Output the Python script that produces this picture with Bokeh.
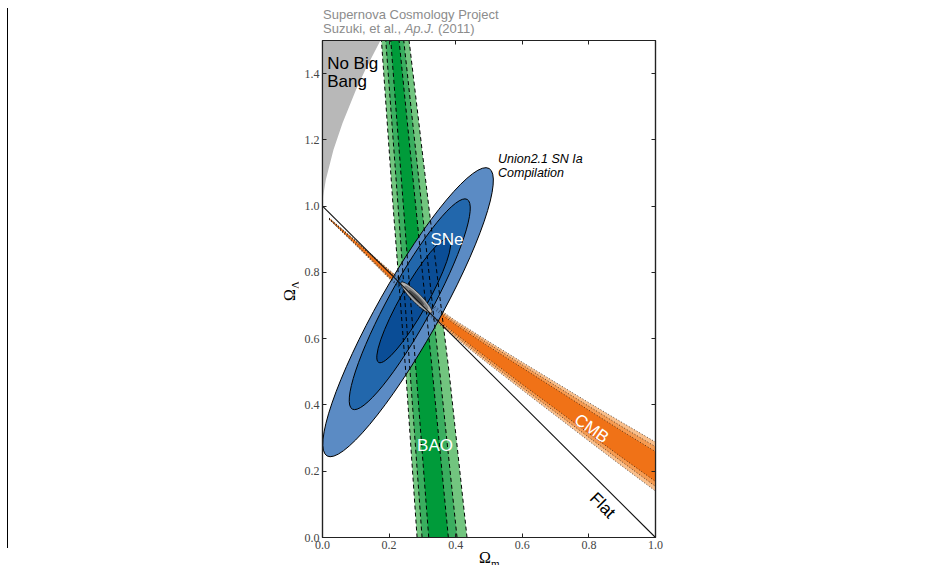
import numpy as np
from bokeh.plotting import figure
from bokeh.models import Range1d, LinearAxis, FixedTicker, Label, CustomJSTickFormatter, Div
from bokeh.layouts import row, column
from bokeh.embed import file_html
from bokeh.resources import INLINE

# ---------------- data ----------------
x_ticks = [0.0, 0.2, 0.4, 0.6, 0.8, 1.0]
y_ticks = [0.0, 0.2, 0.4, 0.6, 0.8, 1.0, 1.2, 1.4]

# "No Big Bang" boundary (Omega_m, Omega_Lambda)
nbb_om = [0.0, 0.002, 0.01, 0.033, 0.06, 0.10, 0.13, 0.174]
nbb_ol = [1.0, 1.03, 1.08, 1.17, 1.25, 1.35, 1.415, 1.5]

# flat universe line
flat_om = [0.0, 1.0]
flat_ol = [1.0, 0.0]

# BAO band edges (Omega_m) at given Omega_Lambda
bao_ol = [0.0, 0.5, 1.0, 1.5]
bao_lo_997 = [0.284, 0.250, 0.212, 0.177]
bao_lo_95 = [0.299, 0.263, 0.227, 0.190]
bao_lo_68 = [0.319, 0.281, 0.243, 0.205]
bao_hi_68 = [0.378, 0.330, 0.280, 0.230]
bao_hi_95 = [0.404, 0.352, 0.298, 0.244]
bao_hi_997 = [0.434, 0.380, 0.319, 0.260]

# CMB band: centre line and half widths (Omega_Lambda) at given Omega_m
cmb_om = [0.02, 0.1, 0.2, 0.3, 0.4, 0.5, 0.6, 0.7, 0.8, 0.9, 1.0]
cmb_mid = [0.962, 0.889, 0.795, 0.705, 0.628, 0.557, 0.487, 0.418, 0.349, 0.281, 0.214]
cmb_hw_997 = [0.002, 0.007, 0.013, 0.019, 0.026, 0.034, 0.042, 0.050, 0.058, 0.066, 0.074]
cmb_hw_95 = [0.0015, 0.005, 0.010, 0.015, 0.020, 0.027, 0.034, 0.040, 0.047, 0.053, 0.060]
cmb_hw_68 = [0.001, 0.0035, 0.007, 0.010, 0.014, 0.019, 0.025, 0.030, 0.035, 0.040, 0.045]

# SNe confidence ellipses (99.7%, 95%, 68%)
sn_om = [0.257, 0.262, 0.274]
sn_ol = [0.680, 0.704, 0.715]
sn_len = [0.991, 0.718, 0.427]
sn_wid = [0.185, 0.132, 0.080]
sn_ang = [60.6, 61.3, 60.4]

# combined constraint (99.7%, 95%, 68%)
comb_om = [0.282, 0.282, 0.282]
comb_ol = [0.724, 0.724, 0.724]
comb_len = [0.130, 0.100, 0.064]
comb_wid = [0.028, 0.019, 0.011]
comb_ang = [-45.0, -45.0, -45.0]

# ---------------- styles ----------------
blue = ["#5b8bc4", "#2267ac", "#0a4d96"]
green = ["#72c57f", "#3aae5f", "#009b3a"]
orange = ["#f9bf8c", "#f59b52", "#f07217"]
grey = ["#b4b4b4", "#7f7f7f", "#4a4a4a"]
SANS = "Liberation Sans"
SERIF = "Liberation Serif"

p = figure(frame_width=333, frame_height=497,
           x_range=Range1d(0, 1), y_range=Range1d(0, 1.5),
           output_backend="svg", toolbar_location=None,
           min_border_left=24, min_border_right=10,
           min_border_top=4, min_border_bottom=16)
p.grid.visible = False
p.outline_line_color = "#222222"
p.outline_line_width = 1.2
p.background_fill_color = "white"
p.border_fill_color = "white"

p.add_layout(LinearAxis(), "above")
p.add_layout(LinearAxis(), "right")
for ax in p.axis:
    ax.major_tick_in = 4
    ax.major_tick_out = 0
    ax.minor_tick_in = 0
    ax.minor_tick_out = 0
    ax.axis_line_color = "#222222"
    ax.axis_line_width = 1.2
    ax.major_tick_line_color = "#222222"
    ax.minor_tick_line_color = "#222222"
    ax.major_label_text_font = SERIF
    ax.major_label_text_font_size = "12px"
    ax.major_label_text_color = "#444444"
    ax.major_label_standoff = 3

# bottom / left: labelled major ticks
p.below[0].ticker = FixedTicker(ticks=x_ticks)
p.left[0].ticker = FixedTicker(ticks=y_ticks)
p.below[0].formatter = CustomJSTickFormatter(code="return tick.toFixed(1)")
p.left[0].formatter = CustomJSTickFormatter(code="return tick.toFixed(1)")
# top / right: unlabelled ticks (as minor ticks)
p.above[0].ticker = FixedTicker(ticks=[], minor_ticks=x_ticks)
p.right[0].ticker = FixedTicker(ticks=[], minor_ticks=y_ticks)
for ax in (p.above[0], p.right[0]):
    ax.minor_tick_in = 4
    ax.minor_tick_out = 0

# No Big Bang region
p.patch(x=nbb_om + [0.0], y=nbb_ol + [1.5], fill_color="#b8b8b8", line_color=None)

# BAO band
bao_lo = [bao_lo_997, bao_lo_95, bao_lo_68]
bao_hi = [bao_hi_997, bao_hi_95, bao_hi_68]
for i in range(3):
    p.harea(x1=bao_lo[i], x2=bao_hi[i], y=bao_ol, fill_color=green[i])

# CMB band
mid = np.array(cmb_mid)
cmb_hw = [np.array(cmb_hw_997), np.array(cmb_hw_95), np.array(cmb_hw_68)]
for i in range(3):
    p.varea(x=cmb_om, y1=mid - cmb_hw[i], y2=mid + cmb_hw[i], fill_color=orange[i])

# SNe ellipses
for i in range(3):
    p.ellipse(x=sn_om[i], y=sn_ol[i], width=sn_len[i], height=sn_wid[i],
              angle=sn_ang[i], angle_units="deg",
              fill_color=blue[i], line_color="black", line_width=1)

# BAO dashed edges
for edge in bao_lo + bao_hi:
    p.line(x=edge, y=bao_ol, line_color="black", line_width=1, line_dash="4 3")

# CMB dotted edges
for hw in cmb_hw:
    p.line(x=cmb_om, y=mid - hw, line_color="black", line_width=0.8, line_dash="1 2", line_alpha=0.8)
    p.line(x=cmb_om, y=mid + hw, line_color="black", line_width=0.8, line_dash="1 2", line_alpha=0.8)

# combined constraint
for i in range(3):
    p.ellipse(x=comb_om[i], y=comb_ol[i], width=comb_len[i], height=comb_wid[i],
              angle=comb_ang[i], angle_units="deg",
              fill_color=grey[i], line_color="black" if i == 0 else None, line_width=0.6)

# flat line
p.line(x=flat_om, y=flat_ol, line_color="#111111", line_width=1.1)

# ---------------- texts inside the frame ----------------
def lab(x, y, text, size, color="black", font=SANS, style="normal", angle=0,
        align="left", baseline="alphabetic"):
    p.add_layout(Label(x=x, y=y, text=text, text_font=font, text_font_size=size,
                       text_color=color, text_font_style=style, angle=angle,
                       angle_units="deg", text_align=align, text_baseline=baseline))

lab(0.014, 1.430, "No Big", "17px")
lab(0.014, 1.376, "Bang", "17px")
lab(0.324, 0.898, "SNe", "17px", color="white")
lab(0.284, 0.278, "BAO", "17px", color="white")
lab(0.808, 0.329, "CMB", "17px", color="white", angle=-35, align="center", baseline="middle")
lab(0.841, 0.097, "Flat", "17px", angle=-45, align="center", baseline="middle")
lab(0.527, 1.143, "Union2.1 SN Ia", "12.5px", style="italic")
lab(0.527, 1.101, "Compilation", "12.5px", style="italic")

# ---------------- texts outside the frame (HTML) ----------------
header = Div(width=900, height=36, margin=(0, 0, 0, 0), text=(
    "<div style=\"padding-left:315px;padding-top:8px;font-family:'Liberation Sans',Arial,sans-serif;"
    "font-size:13px;line-height:14px;color:#8c8c8c;white-space:nowrap;\">"
    "Supernova Cosmology Project<br>Suzuki, et al., <i>Ap.J.</i> (2011)</div>"))

PH = 4 + 497 + 16
ylab = Div(width=290, height=PH, margin=(0, 0, 0, 0), text=(
    "<div style=\"position:relative;width:290px;height:%dpx;\">"
    "<div style=\"position:absolute;left:272px;top:246px;width:20px;height:18px;\">"
    "<div style=\"position:absolute;left:0;top:0;transform:rotate(-90deg);transform-origin:10px 9px;"
    "white-space:nowrap;font-family:'Liberation Serif',serif;font-size:16px;line-height:18px;color:#000;\">"
    "<span>&Omega;</span><span style=\"font-size:11px;position:relative;top:4px;\">&Lambda;</span>"
    "</div></div></div>" % PH))

xlab = Div(width=600, height=10, margin=(0, 0, 0, 0), text=(
    "<div style=\"position:relative;width:600px;height:10px;\">"
    "<div style=\"position:absolute;left:471px;top:-5px;white-space:nowrap;"
    "font-family:'Liberation Serif',serif;font-size:16px;line-height:16px;color:#000;\">"
    "<span>&Omega;</span><span style=\"font-size:11px;position:relative;top:4px;\">m</span>"
    "</div></div>"))

bar = Div(width=1, height=540, margin=(8, 0, 0, 7), styles={"background-color": "black"})

layout = row(bar, column(header, row(ylab, p), xlab))

open("out.html", "w").write(file_html(layout, INLINE))
